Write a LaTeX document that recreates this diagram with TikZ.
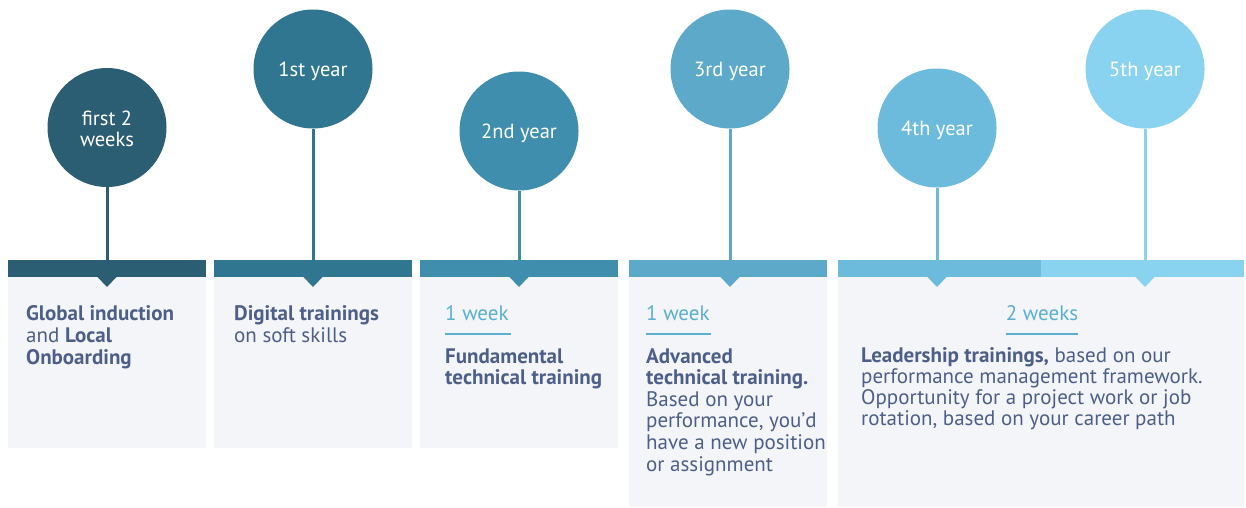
\documentclass[tikz,border=0pt]{standalone}
\usepackage{fontspec}
\setmainfont{PT Sans}
\definecolor{cA}{HTML}{2B5E73}
\definecolor{cB}{HTML}{317690}
\definecolor{cC}{HTML}{3F8EAD}
\definecolor{cD}{HTML}{5CA9CA}
\definecolor{cE}{HTML}{6CBBDD}
\definecolor{cF}{HTML}{8AD3F0}
\definecolor{txt}{HTML}{4D5F88}
\definecolor{wk}{HTML}{5BAFD0}
\definecolor{boxbg}{HTML}{F4F5F8}
\begin{document}
\begin{tikzpicture}[x=1pt,y=-1pt,
  bubble/.style={circle, minimum size=119pt, inner sep=0pt},
  bublbl/.style={inner sep=0pt, text=white, align=center,
    font=\fontsize{20.5}{21}\selectfont},
  bar/.style={rectangle, minimum height=17pt, inner sep=0pt},
  panel/.style={rectangle, fill=boxbg, inner sep=0pt},
  stem/.style={line width=3pt},
  body/.style={anchor=base west, inner sep=0pt, text=txt},
  weektxt/.style={inner sep=0pt, text=wk, font=\fontsize{21}{22}\selectfont},
  weekline/.style={draw=wk, line width=2.2pt}
]
\useasboundingbox[fill=white] (0,0) rectangle (1246,507);

% panels
\node[panel, minimum width=198pt, minimum height=171pt] (p1) at (107,362.5) {};
\node[panel, minimum width=198pt, minimum height=171pt] (p2) at (313,362.5) {};
\node[panel, minimum width=198pt, minimum height=171pt] (p3) at (519,362.5) {};
\node[panel, minimum width=198pt, minimum height=230pt] (p4) at (728,392) {};
\node[panel, minimum width=406pt, minimum height=230pt] (p5) at (1041,392) {};

% bars
\node[bar, fill=cA, minimum width=198pt] (b1) at (107,268.5) {};
\node[bar, fill=cB, minimum width=198pt] (b2) at (313,268.5) {};
\node[bar, fill=cC, minimum width=198pt] (b3) at (519,268.5) {};
\node[bar, fill=cD, minimum width=198pt] (b4) at (728,268.5) {};
\node[bar, fill=cE, minimum width=203pt] (b5) at (939.5,268.5) {};
\node[bar, fill=cF, minimum width=203pt] (b6) at (1142.5,268.5) {};

% circles
\node[bubble, fill=cA] (y1) at (107,127.5) {};
\node[bubble, fill=cB] (y2) at (313,69) {};
\node[bubble, fill=cC] (y3) at (519,131) {};
\node[bubble, fill=cD] (y4) at (730,69) {};
\node[bubble, fill=cE] (y5) at (937,128) {};
\node[bubble, fill=cF] (y6) at (1145,69) {};
\node[bublbl] (l1) at ([yshift=-1.5pt]y1.center) {first 2\\weeks};
\node[bublbl] (l2) at ([yshift=-2pt]y2.center) {1st year};
\node[bublbl] (l3) at ([yshift=-2pt]y3.center) {2nd year};
\node[bublbl] (l4) at ([yshift=-2pt]y4.center) {3rd year};
\node[bublbl] (l5) at ([yshift=-2pt]y5.center) {4th year};
\node[bublbl] (l6) at ([yshift=-2pt]y6.center) {5th year};

% stems
\draw[stem, draw=cA] (y1) -- (y1 |- b1.north);
\draw[stem, draw=cB] (y2) -- (y2 |- b2.north);
\draw[stem, draw=cC] (y3) -- (y3 |- b3.north);
\draw[stem, draw=cD] (y4) -- (y4 |- b4.north);
\draw[stem, draw=cE] (y5) -- (y5 |- b5.north);
\draw[stem, draw=cF] (y6) -- (y6 |- b6.north);

% notches
\foreach \xx/\cc in {107/cA, 313/cB, 519/cC, 730/cD, 937/cE, 1145/cF}{
  \fill[\cc] (\xx-10,276.5) -- (\xx+10,276.5) -- (\xx,287) -- cycle;
}

% texts
\node[body] (t1) at (26,320) {\parbox[t]{178pt}{\raggedright\fontsize{21}{22}\selectfont
  \textbf{Global induction}\\ and \textbf{Local}\\ \textbf{Onboarding}}};
\node[body] (t2) at (234,320) {\parbox[t]{178pt}{\raggedright\fontsize{21}{22}\selectfont
  \textbf{Digital trainings}\\ on soft skills}};

\node[weektxt, anchor=base west] (w3) at (445,320) {1 week};
\draw[weekline] (445,334) -- (511,334);
\node[body] (t3) at (445,363) {\parbox[t]{200pt}{\raggedright\fontsize{21}{21.6}\selectfont
  \textbf{Fundamental}\\ \textbf{technical training}}};

\node[weektxt, anchor=base west] (w4) at (646,320) {1 week};
\draw[weekline] (646,334) -- (711,334);
\node[body] (t4) at (646,363) {\parbox[t]{200pt}{\raggedright\fontsize{21}{21.6}\selectfont
  \textbf{Advanced}\\ \textbf{technical training.}\\ Based on your\\ performance, you’d\\ have a new position\\ or assignment}};

\node[weektxt, anchor=base] (w5) at (1042,320) {2 weeks};
\draw[weekline] (1006,334) -- (1078,334);
\node[body] (t5) at (861,362) {\parbox[t]{380pt}{\raggedright\fontsize{21}{21}\selectfont
  \textbf{Leadership trainings,} based on our\\ performance management framework.\\ Opportunity for a project work or job\\ rotation, based on your career path}};
\end{tikzpicture}
\end{document}
